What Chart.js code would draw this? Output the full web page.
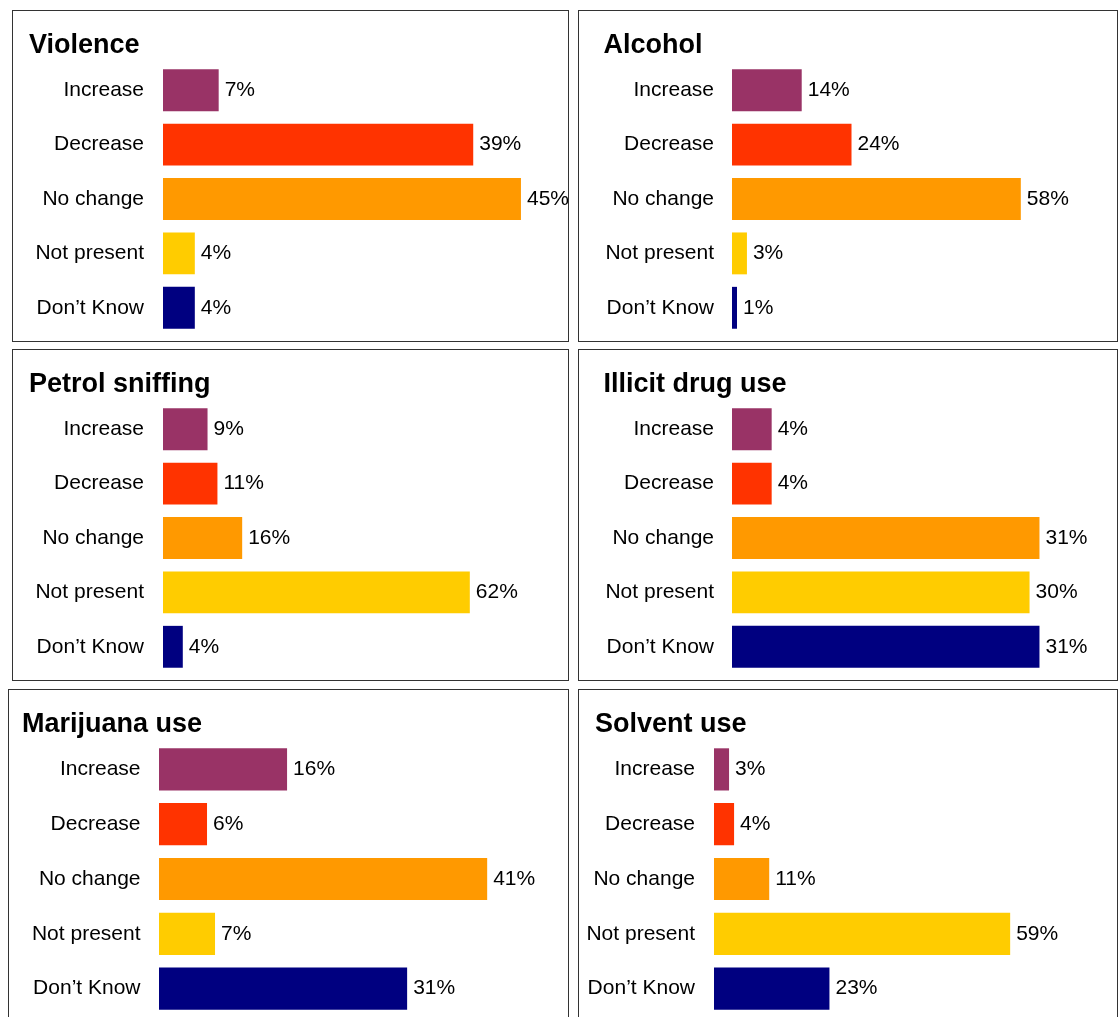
<!DOCTYPE html>
<html>
<head>
    <title>Community changes</title>
    <script src="https://cdn.jsdelivr.net/npm/chart.js"></script>
    <style>
        html, body { margin: 0; padding: 0; background: #fff; }
        body { width: 1120px; height: 1017px; overflow: hidden; position: relative; }
        .panel { position: absolute; border: 1px solid #333; background: #fff; }
        .panel canvas { display: block; }
    </style>
</head>
<body>
    <div class="panel" id="p0"><canvas id="c0"></canvas></div>
    <div class="panel" id="p1"><canvas id="c1"></canvas></div>
    <div class="panel" id="p2"><canvas id="c2"></canvas></div>
    <div class="panel" id="p3"><canvas id="c3"></canvas></div>
    <div class="panel" id="p4"><canvas id="c4"></canvas></div>
    <div class="panel" id="p5"><canvas id="c5"></canvas></div>

    <script>
        // data (percent of responses)
        const categories = ['Increase', 'Decrease', 'No change', 'Not present', 'Don’t Know'];
        const titles = ['Violence', 'Alcohol', 'Petrol sniffing', 'Illicit drug use', 'Marijuana use', 'Solvent use'];
        const violence = [7, 39, 45, 4, 4];
        const alcohol = [14, 24, 58, 3, 1];
        const petrol = [9, 11, 16, 62, 4];
        const illicitDrugs = [4, 4, 31, 30, 31];
        const marijuana = [16, 6, 41, 7, 31];
        const solvent = [3, 4, 11, 59, 23];
        const series = [violence, alcohol, petrol, illicitDrugs, marijuana, solvent];

        // each panel has its own x scale
        const axisMax = [48.4, 73.3, 77.8, 36.8, 48.6, 76.3];

        const barColors = ['#993366', '#FF3300', '#FF9900', '#FFCC00', '#000080'];
        const FONT = '"Liberation Sans", Arial, Helvetica, sans-serif';

        // panel boxes and inner offsets
        const layout = [
            { left: 12,  top: 10,  width: 557, titleX: 16,   axisRight: 150, tickPad: 19,   padBottom: 6 },
            { left: 578, top: 10,  width: 540, titleX: 24.5, axisRight: 153, tickPad: 18,   padBottom: 6 },
            { left: 12,  top: 349, width: 557, titleX: 16,   axisRight: 150, tickPad: 19,   padBottom: 6 },
            { left: 578, top: 349, width: 540, titleX: 24.5, axisRight: 153, tickPad: 18,   padBottom: 6 },
            { left: 8,   top: 689, width: 561, titleX: 13,   axisRight: 150, tickPad: 18.5, padBottom: 4 },
            { left: 578, top: 689, width: 540, titleX: 16,   axisRight: 135, tickPad: 19,   padBottom: 4 }
        ];
        const panelHeight = 332;

        // panel heading, left aligned inside the box
        const panelTitle = {
            id: 'panelTitle',
            afterDraw(chart, args, opts) {
                const ctx = chart.ctx;
                ctx.save();
                ctx.font = 'bold 27px ' + FONT;
                ctx.fillStyle = '#000';
                ctx.textAlign = 'left';
                ctx.textBaseline = 'alphabetic';
                ctx.fillText(opts.text, opts.x, 41.5);
                ctx.restore();
            }
        };

        const valueLabels = {
            id: 'valueLabels',
            afterDatasetsDraw(chart) {
                const ctx = chart.ctx;
                const meta = chart.getDatasetMeta(0);
                const values = chart.data.datasets[0].data;
                ctx.save();
                ctx.font = '21px ' + FONT;
                ctx.fillStyle = '#000';
                ctx.textAlign = 'left';
                ctx.textBaseline = 'middle';
                meta.data.forEach((bar, i) => {
                    ctx.fillText(values[i] + '%', bar.x + 6, bar.y);
                });
                ctx.restore();
            }
        };

        function createChart(i) {
            const box = layout[i];
            const panel = document.getElementById('p' + i);
            panel.style.left = box.left + 'px';
            panel.style.top = box.top + 'px';
            panel.style.width = (box.width - 2) + 'px';
            panel.style.height = (panelHeight - 2) + 'px';

            const canvas = document.getElementById('c' + i);
            canvas.width = box.width - 2;
            canvas.height = panelHeight - 2;

            return new Chart(canvas.getContext('2d'), {
                type: 'bar',
                data: {
                    labels: categories,
                    datasets: [{
                        data: series[i],
                        backgroundColor: barColors,
                        borderWidth: 0,
                        barPercentage: 0.77,
                        categoryPercentage: 1
                    }]
                },
                options: {
                    indexAxis: 'y',
                    responsive: false,
                    animation: false,
                    layout: { padding: { left: 2, right: 20, top: 52, bottom: box.padBottom } },
                    scales: {
                        x: { display: false, min: 0, max: axisMax[i] },
                        y: {
                            grid: { display: false, drawTicks: false },
                            border: { display: false },
                            ticks: {
                                color: '#000',
                                padding: box.tickPad,
                                font: { family: FONT, size: 21 }
                            },
                            afterFit(scale) {
                                scale.width = box.axisRight - 2;
                                scale.paddingTop = 0;
                                scale.paddingBottom = 0;
                            }
                        }
                    },
                    plugins: {
                        legend: { display: false },
                        tooltip: { enabled: false },
                        title: { display: false },
                        panelTitle: { text: titles[i], x: box.titleX }
                    }
                },
                plugins: [valueLabels, panelTitle]
            });
        }

        const charts = titles.map((t, i) => createChart(i));
    </script>
</body>
</html>
